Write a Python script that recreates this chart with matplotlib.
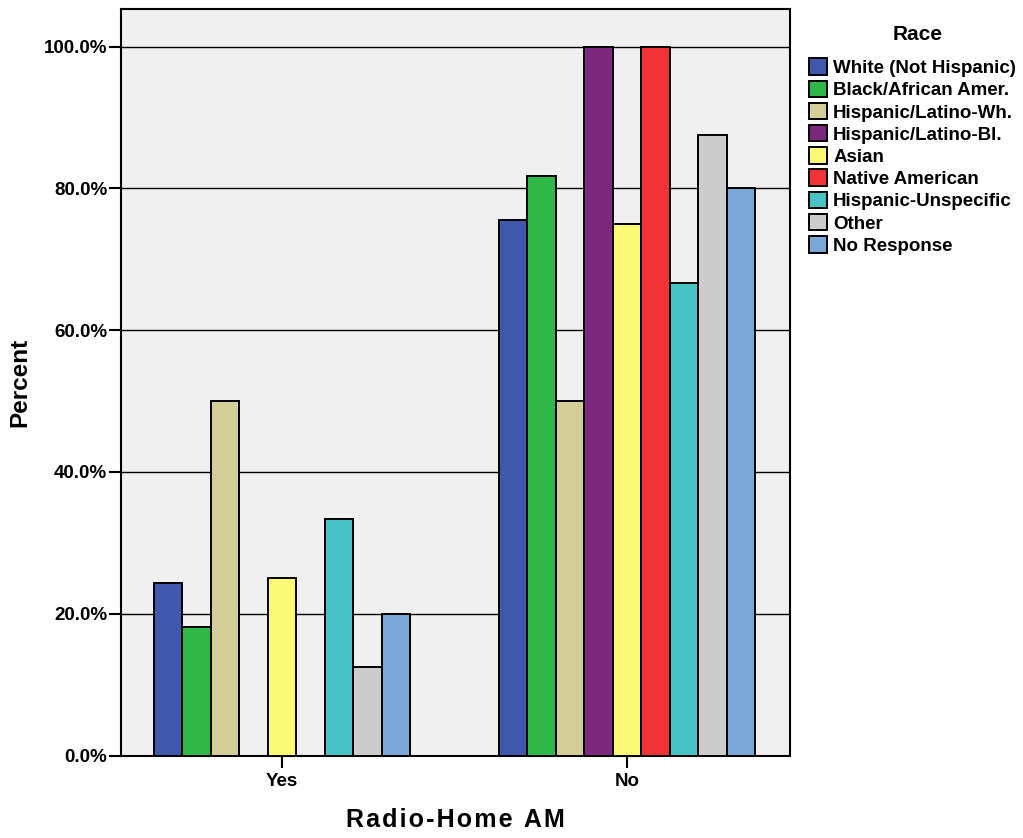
import matplotlib
matplotlib.use("Agg")
import matplotlib.pyplot as plt
import numpy as np
from matplotlib.ticker import FuncFormatter

categories = ["Yes", "No"]
races = ["White (Not Hispanic)", "Black/African Amer.", "Hispanic/Latino-Wh.",
         "Hispanic/Latino-Bl.", "Asian", "Native American",
         "Hispanic-Unspecific", "Other", "No Response"]
yes_values = [24.4, 18.2, 50.0, 0.0, 25.0, 0.0, 33.3, 12.5, 20.0]
no_values = [75.6, 81.8, 50.0, 100.0, 75.0, 100.0, 66.7, 87.5, 80.0]
colors = ["#3E58AC", "#2EB848", "#D3CE97", "#7B287D", "#FBF873",
          "#EF3338", "#48C2C5", "#CCCCCC", "#7BA7D6"]

plt.rcParams['font.family'] = ['Liberation Sans', 'DejaVu Sans']
plt.rcParams['font.weight'] = 'bold'

fig = plt.figure(figsize=(10.23, 8.38), dpi=100)
ax = fig.add_axes([0.1178, 0.0984, 0.6544, 0.8909])
ax.set_facecolor("#F0F0F0")

x = np.arange(len(categories))
w = 0.0825
n = len(races)
for i, (race, col) in enumerate(zip(races, colors)):
    vals = [yes_values[i], no_values[i]]
    offs = (i - (n - 1) / 2) * w
    ax.bar(x + offs, vals, width=w, color=col, edgecolor="black",
           linewidth=1.4, label=race, zorder=3)

ax.set_xlim(-0.468, 1.472)
ax.set_ylim(0, 105.3)
ax.set_yticks([0, 20, 40, 60, 80, 100])
ax.yaxis.set_major_formatter(FuncFormatter(lambda v, p: f"{v:.1f}%"))
ax.set_xticks(x)
ax.set_xticklabels(categories)
ax.grid(axis="y", color="black", linewidth=1.0, zorder=1)
ax.set_axisbelow(True)
for s in ax.spines.values():
    s.set_linewidth(1.5)
    s.set_color("black")
ax.tick_params(axis="both", direction="out", width=1.5,
               labelsize=13.5, colors="black")
ax.tick_params(axis="x", length=8.5, pad=4)
ax.tick_params(axis="y", length=9, pad=0.5)
for lab in ax.get_xticklabels() + ax.get_yticklabels():
    lab.set_fontweight("bold")

ax.set_ylabel("Percent", fontsize=17.5, fontweight="bold", labelpad=9)
ax.set_xlabel("\u200a".join("Radio-Home AM"), fontsize=18, fontweight="bold", labelpad=13)

leg = ax.legend(loc="upper left", bbox_to_anchor=(1.028, 0.9337), frameon=False,
                fontsize=13.5,
                handlelength=0.97, handleheight=0.97, handletextpad=0.33,
                labelspacing=0.19, borderaxespad=0, borderpad=0)
for t in leg.get_texts():
    t.set_fontweight("bold")
for h in leg.legend_handles:
    h.set_linewidth(1.4)

fig.text(918 / 1023, 1 - 35 / 838, "Race", fontsize=15, fontweight="bold",
         ha="center", va="center")

fig.savefig("out.png", dpi=100)
